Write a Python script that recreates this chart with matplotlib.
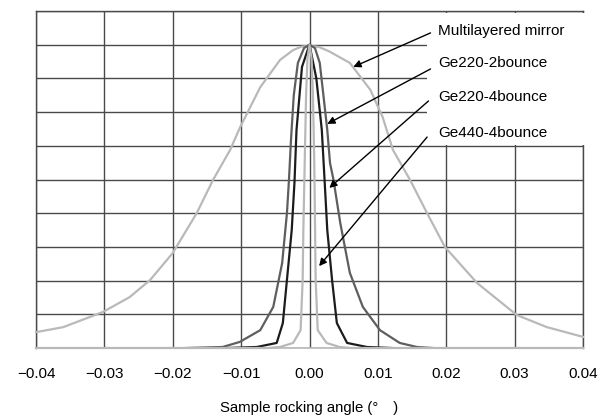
import matplotlib
matplotlib.use("Agg")
import matplotlib.pyplot as plt
from matplotlib.patches import Rectangle

plt.rcParams['font.family'] = ['Liberation Sans', 'DejaVu Sans']

# ---- data (normalised intensity vs sample rocking angle, degrees) ----
mirror_x = [-0.040, -0.036, -0.0302, -0.0263, -0.0233, -0.020, -0.0165, -0.0141, -0.0116,
            -0.0102, -0.0072, -0.0043, -0.0024, -0.0012, 0.0, 0.0014, 0.0029, 0.0059, 0.0089,
            0.0107, 0.0122, 0.0147, 0.0172, 0.0198, 0.0245, 0.0303, 0.0347, 0.040]
mirror_y = [0.047, 0.062, 0.107, 0.151, 0.202, 0.282, 0.400, 0.499, 0.588,
            0.653, 0.774, 0.855, 0.884, 0.894, 0.897, 0.893, 0.880, 0.846, 0.766,
            0.685, 0.588, 0.499, 0.400, 0.300, 0.193, 0.098, 0.062, 0.033]

ge220_2_x = [-0.018, -0.0127, -0.0102, -0.0072, -0.0053, -0.0040, -0.0033, -0.0030, -0.0027,
             -0.0023, -0.0017, -0.0008, 0.0, 0.0008, 0.0015, 0.0022, 0.0026, 0.0030, 0.0035,
             0.0045, 0.0059, 0.0078, 0.0103, 0.0132, 0.0157, 0.018]
ge220_2_y = [0.0, 0.003, 0.018, 0.053, 0.122, 0.252, 0.400, 0.500, 0.620,
             0.750, 0.846, 0.890, 0.900, 0.890, 0.846, 0.720, 0.647, 0.549, 0.500,
             0.371, 0.223, 0.122, 0.053, 0.015, 0.003, 0.0]

ge220_4_x = [-0.012, -0.0077, -0.0048, -0.0039, -0.0033, -0.0026, -0.0022, -0.0019, -0.0011,
             0.0, 0.0010, 0.0018, 0.0022, 0.0026, 0.0033, 0.0040, 0.0055, 0.0084, 0.012]
ge220_4_y = [0.0, 0.003, 0.015, 0.074, 0.202, 0.350, 0.490, 0.647, 0.834,
             0.900, 0.800, 0.647, 0.500, 0.350, 0.202, 0.074, 0.015, 0.003, 0.0]

ge440_x = [-0.040, -0.006, -0.0043, -0.0024, -0.0013, -0.0010, -0.0009, -0.0007, -0.0005,
           -0.0003, 0.0, 0.0003, 0.0005, 0.0007, 0.0009, 0.0012, 0.0025, 0.0044, 0.006, 0.040]
ge440_y = [0.0, 0.0, 0.003, 0.015, 0.053, 0.202, 0.350, 0.550, 0.750,
           0.860, 0.900, 0.860, 0.750, 0.550, 0.202, 0.053, 0.015, 0.003, 0.0, 0.0]

labels = ["Multilayered mirror", "Ge220-2bounce", "Ge220-4bounce", "Ge440-4bounce"]
label_pos = [(0.0188, 0.941), (0.0188, 0.846), (0.0188, 0.745), (0.0188, 0.638)]
arrow_tail = [(0.0177, 0.935), (0.0177, 0.828), (0.0174, 0.733), (0.0172, 0.626)]
arrow_head = [(0.0064, 0.834), (0.0026, 0.665), (0.0029, 0.475), (0.0014, 0.243)]

xticks = [-0.04, -0.03, -0.02, -0.01, 0.0, 0.01, 0.02, 0.03, 0.04]
xtick_labels = ["\u22120.04", "\u22120.03", "\u22120.02", "\u22120.01", "0.00",
                "0.01", "0.02", "0.03", "0.04"]

# ---- figure ----
fig = plt.figure(figsize=(6.04, 4.16), dpi=100)
ax = fig.add_axes([36 / 604, (416 - 348) / 416, (583 - 36) / 604, (348 - 11) / 416])

light = '#b9b9b9'
mid = '#5e5e5e'
dark = '#1c1c1c'

ax.plot(mirror_x, mirror_y, color=light, lw=1.6, zorder=4, clip_on=False)
ax.plot(ge220_2_x, ge220_2_y, color=mid, lw=1.6, zorder=4)
ax.plot(ge220_4_x, ge220_4_y, color=dark, lw=1.6, zorder=4)
ax.plot(ge440_x, ge440_y, color=light, lw=1.6, zorder=4.5, clip_on=False)

ax.set_xlim(-0.04, 0.04)
ax.set_ylim(0, 1.0)
ax.set_xticks(xticks)
ax.set_xticklabels(xtick_labels)
ax.set_yticks([i / 10 for i in range(11)])
ax.set_yticklabels([])
ax.tick_params(axis='both', length=0)
ax.tick_params(axis='x', pad=14, labelsize=11, labelcolor='black')
ax.grid(True, color='#4a4a4a', lw=1.0)
ax.set_axisbelow(True)
for s in ['left', 'right', 'top']:
    ax.spines[s].set_color('#4a4a4a')
    ax.spines[s].set_linewidth(1.0)
ax.spines['bottom'].set_color(light)
ax.spines['bottom'].set_linewidth(1.2)

ax.set_xlabel("Sample rocking angle (\u00b0\u3000)", fontsize=10.7, labelpad=14,
              family=['Liberation Sans', 'Noto Sans CJK JP', 'DejaVu Sans'])

# white label area (text-box background)
ax.add_patch(Rectangle((0.715, 0.603), 0.30, 0.392, transform=ax.transAxes,
                       facecolor='white', edgecolor='none', zorder=3, clip_on=False))

for lab, (tx, ty), (ax0, ay0), (hx, hy) in zip(labels, label_pos, arrow_tail, arrow_head):
    ax.text(tx, ty, lab, fontsize=11, va='center', ha='left', zorder=6)
    ax.annotate("", xy=(hx, hy), xytext=(ax0, ay0),
                arrowprops=dict(arrowstyle='-|>', color='black', lw=1.0,
                                mutation_scale=11, shrinkA=0, shrinkB=0),
                zorder=5)

fig.savefig("out.png", dpi=100)
